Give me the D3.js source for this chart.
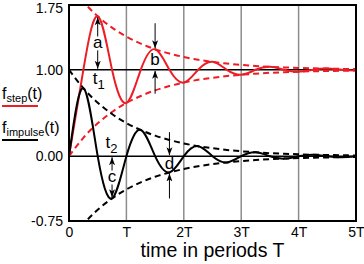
<!DOCTYPE html>
<html>
<head>
<meta charset="utf-8">
<script src="https://cdn.jsdelivr.net/npm/d3@7"></script>
<style>
  body { margin: 0; background: #fff; }
  svg { display: block; font-family: "Liberation Sans", Arial, sans-serif; }
</style>
</head>
<body>
<svg width="364" height="264"></svg>
<script>
// время в периодах T (шаг четверть периода)
const timeT = [0, 0.25, 0.5, 0.75, 1, 1.25, 1.5, 1.75, 2, 2.25, 2.5, 2.75, 3, 3.25, 3.5, 3.75, 4, 4.25, 4.5, 4.75, 5];
// переходная характеристика
const stepValues = [0, 1.0, 1.62, 1.0, 0.616, 1.0, 1.238, 1.0, 0.852, 1.0, 1.092, 1.0, 0.943, 1.0, 1.035, 1.0, 0.978, 1.0, 1.014, 1.0, 0.992];
// импульсная характеристика
const impulseValues = [0, 0.787, 0, -0.488, 0, 0.303, 0, -0.188, 0, 0.116, 0, -0.072, 0, 0.045, 0, -0.028, 0, 0.017, 0, -0.011, 0];
// огибающие (пунктир)
const stepUpper = [2.0, 1.787, 1.62, 1.488, 1.384, 1.303, 1.238, 1.188, 1.148, 1.116, 1.092, 1.072, 1.057, 1.045, 1.035, 1.028, 1.022, 1.017, 1.014, 1.011, 1.008];
const stepLower = [0, 0.213, 0.38, 0.512, 0.616, 0.697, 0.762, 0.812, 0.852, 0.884, 0.908, 0.928, 0.943, 0.955, 0.965, 0.972, 0.978, 0.983, 0.986, 0.989, 0.992];
const impulseUpper = [1.0, 0.787, 0.62, 0.488, 0.384, 0.303, 0.238, 0.188, 0.148, 0.116, 0.092, 0.072, 0.057, 0.045, 0.035, 0.028, 0.022, 0.017, 0.014, 0.011, 0.008];
const impulseLower = impulseUpper.map(v => -v);

// подписи осей
const yTicks = [1.75, 1.0, 0.0, -0.75];
const xTicks = [0, 1, 2, 3, 4, 5];
const xTickLabels = ["0", "T", "2T", "3T", "4T", "5T"];
const xTitle = "time in periods T";

// размеры отклонений a, b, c, d
const gapLabels = ["a", "b", "c", "d"];
const gapT = [0.5, 1.5, 0.75, 1.75];
const gapBase = [1.0, 1.0, 0.0, 0.0];
const gapPeak = [1.62, 1.238, -0.488, -0.188];
const gapInward = [false, true, false, true];

// отметки t1, t2
const markNames = ["1", "2"];
const markT = [0.52, 0.74];
const markY = [0.84, 0.09];

const RED = "#ee1c24";
const svg = d3.select("svg");
const area = { left: 69, right: 356, top: 5, bottom: 221 };

const scX = d3.scaleLinear().domain([0, 5]).range([area.left, area.right]);
const scY = d3.scaleLinear().domain([-0.75, 1.75]).range([area.bottom, area.top]);

svg.append("clipPath").attr("id", "plot")
  .append("rect")
  .attr("x", area.left).attr("y", area.top)
  .attr("width", area.right - area.left).attr("height", area.bottom - area.top);

// вертикальная сетка
svg.append("g")
  .selectAll("line")
  .data([1, 2, 3, 4])
  .enter()
  .append("line")
  .attr("x1", d => scX(d)).attr("x2", d => scX(d))
  .attr("y1", area.top).attr("y2", area.bottom)
  .style("stroke", "#8c8c8c")
  .style("stroke-width", 1.5);

// горизонтальные линии 0 и 1
svg.append("g")
  .selectAll("line")
  .data([0, 1])
  .enter()
  .append("line")
  .attr("x1", area.left).attr("x2", area.right)
  .attr("y1", d => scY(d)).attr("y2", d => scY(d))
  .style("stroke", "#000")
  .style("stroke-width", 1.5);

const line = d3.line()
  .x((d, i) => scX(timeT[i]))
  .y(d => scY(d))
  .curve(d3.curveNatural);

const plot = svg.append("g").attr("clip-path", "url(#plot)");

function drawCurve(values, color, dashed) {
  plot.append("path")
    .datum(values)
    .attr("d", line)
    .style("fill", "none")
    .style("stroke", color)
    .style("stroke-width", 2)
    .style("stroke-dasharray", dashed ? "6,4" : null);
}

drawCurve(stepUpper, RED, true);
drawCurve(stepLower, RED, true);
drawCurve(stepValues, RED, false);
drawCurve(impulseUpper, "#000", true);
drawCurve(impulseLower, "#000", true);
drawCurve(impulseValues, "#000", false);

// рамка
svg.append("rect")
  .attr("x", area.left).attr("y", area.top)
  .attr("width", area.right - area.left).attr("height", area.bottom - area.top)
  .style("fill", "none")
  .style("stroke", "#000")
  .style("stroke-width", 2);

// оси
const axisY = d3.axisLeft(scY)
  .tickValues(yTicks)
  .tickSize(0)
  .tickPadding(6)
  .tickFormat(d => d.toFixed(2));
svg.append("g")
  .attr("transform", `translate(${area.left}, 0)`)
  .call(axisY)
  .call(g => g.select(".domain").remove())
  .selectAll("text")
  .attr("dy", d => d === 1.75 ? "0.55em" : "0.34em")
  .style("font-family", "Liberation Sans, Arial, sans-serif")
  .style("font-size", "14px")
  .style("fill", "#000");

const axisX = d3.axisBottom(scX)
  .tickValues(xTicks)
  .tickSize(0)
  .tickPadding(6)
  .tickFormat((d, i) => xTickLabels[i]);
svg.append("g")
  .attr("transform", `translate(0, ${area.bottom})`)
  .call(axisX)
  .call(g => g.select(".domain").remove())
  .selectAll("text")
  .style("font-family", "Liberation Sans, Arial, sans-serif")
  .style("font-size", "14px")
  .style("fill", "#000");

svg.append("text")
  .attr("x", (area.left + area.right) / 2)
  .attr("y", 257)
  .attr("text-anchor", "middle")
  .style("font-size", "19.5px")
  .text(xTitle);

// стрелки
svg.append("defs").append("marker")
  .attr("id", "arr")
  .attr("viewBox", "-8 -4 9 8")
  .attr("refX", 0).attr("refY", 0)
  .attr("markerWidth", 9).attr("markerHeight", 8)
  .attr("markerUnits", "userSpaceOnUse")
  .attr("orient", "auto")
  .append("path")
  .attr("d", "M0,0 L-8,-3 L-6,0 L-8,3 Z")
  .style("fill", "#000");

function arrow(x, y1, y2) {
  svg.append("line")
    .attr("x1", x).attr("x2", x)
    .attr("y1", y1).attr("y2", y2)
    .attr("marker-end", "url(#arr)")
    .style("stroke", "#000")
    .style("stroke-width", 1);
}

gapLabels.forEach((lbl, i) => {
  const x = scX(gapT[i]);
  const yb = scY(gapBase[i]);
  const yp = scY(gapPeak[i]);
  const dir = yp < yb ? -1 : 1; // направление от базовой линии к пику
  const mid = (yb + yp) / 2;
  if (!gapInward[i]) {
    arrow(x, mid - dir * 2, yp - dir * 1);
    arrow(x, mid + dir * 2, yb + dir * 1);
  } else {
    arrow(x, yp + dir * 26, yp + dir * 1);
    arrow(x, yb - dir * 24, yb - dir * 1);
  }
  svg.append("text")
    .attr("x", x)
    .attr("y", mid + 5)
    .attr("text-anchor", "middle")
    .style("font-size", "17px")
    .style("paint-order", "stroke")
    .style("stroke", gapInward[i] ? "none" : "#fff")
    .style("stroke-width", 5)
    .text(lbl);
});

// t1, t2
markNames.forEach((n, i) => {
  const t = svg.append("text")
    .attr("x", scX(markT[i]))
    .attr("y", scY(markY[i]))
    .attr("text-anchor", "middle")
    .style("font-size", "17px");
  t.append("tspan").text("t");
  t.append("tspan").attr("dy", 5).style("font-size", "13px").text(n);
});

// легенда
const legendNames = ["step", "impulse"];
const legendColors = [RED, "#000"];
const legendBase = [99, 133];
legendNames.forEach((n, i) => {
  const t = svg.append("text")
    .attr("x", 2)
    .attr("y", legendBase[i])
    .style("font-size", "16px");
  t.append("tspan").text("f");
  t.append("tspan").attr("dy", 3).style("font-size", "11px").text(n);
  t.append("tspan").attr("dy", -3).text("(t)");
  svg.append("line")
    .attr("x1", 2).attr("x2", 38)
    .attr("y1", legendBase[i] + 7).attr("y2", legendBase[i] + 7)
    .style("stroke", legendColors[i])
    .style("stroke-width", 2);
});
</script>
</body>
</html>
